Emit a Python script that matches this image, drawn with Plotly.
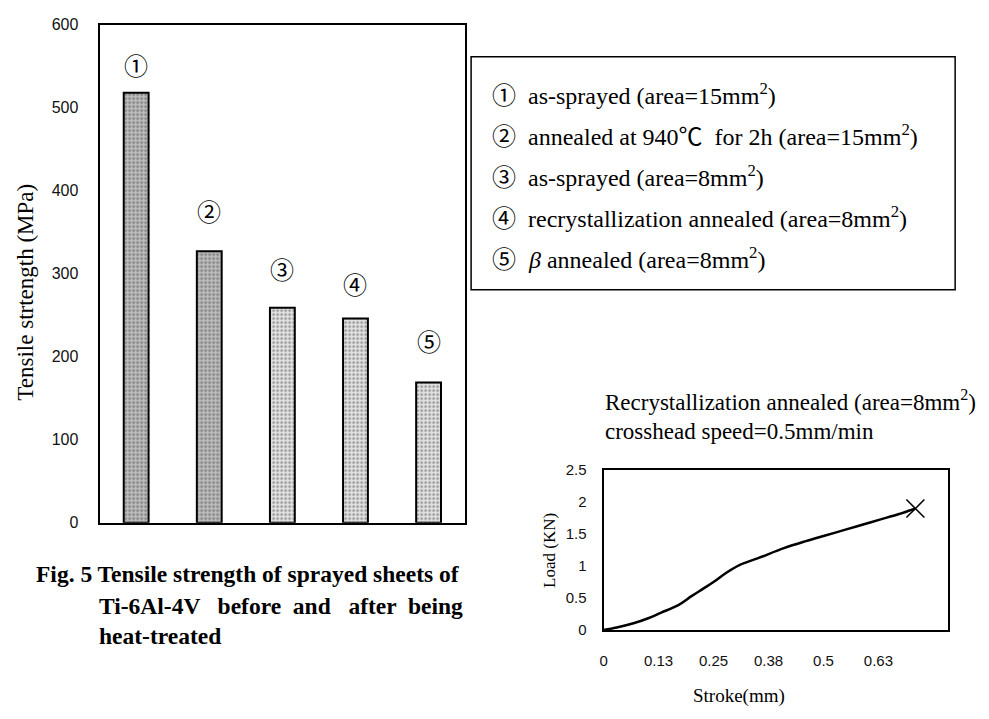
import plotly.graph_objects as go

# ---------------- data ----------------
conditions = ["①", "②", "③", "④", "⑤"]
strength_mpa = [518, 327, 259, 246, 169]
legend_labels = [
    "as-sprayed (area=15mm<sup>2</sup>)",
    "annealed at 940℃  for 2h (area=15mm<sup>2</sup>)",
    "as-sprayed (area=8mm<sup>2</sup>)",
    "recrystallization annealed (area=8mm<sup>2</sup>)",
    "<i>β</i> annealed (area=8mm<sup>2</sup>)",
]
strength_ticks = [0, 100, 200, 300, 400, 500, 600]

stroke_mm = [0, 0.03, 0.07, 0.10, 0.13, 0.17, 0.20, 0.225, 0.25, 0.28, 0.31,
             0.35, 0.41, 0.46, 0.50, 0.55, 0.59, 0.63, 0.67, 0.709]
load_kn = [0, 0.04, 0.11, 0.18, 0.27, 0.39, 0.53, 0.64, 0.75, 0.90, 1.02,
           1.12, 1.28, 1.39, 1.47, 1.57, 1.65, 1.73, 1.81, 1.90]
stroke_tickvals = [0, 0.125, 0.25, 0.375, 0.5, 0.625]
stroke_ticktext = ["0", "0.13", "0.25", "0.38", "0.5", "0.63"]
load_ticks = [0, 0.5, 1, 1.5, 2, 2.5]
load_ticktext = ["0", "0.5", "1", "1.5", "2", "2.5"]

# ---------------- styling ----------------
W, H = 989, 719
def px(x): return x / W
def py(y): return 1 - y / H

SERIF = "Liberation Serif, Times New Roman, Noto Sans CJK JP, serif"
CIRC = "Noto Sans CJK JP, Liberation Serif, serif"
SANS = "Liberation Sans, Arial, sans-serif"

bar_bg = ["#bcbcbc", "#bcbcbc", "#e2e2e2", "#e2e2e2", "#e2e2e2"]
bar_fg = ["#6a6a6a", "#6a6a6a", "#8e8e8e", "#8e8e8e", "#8e8e8e"]
label_offsets = [34, 49, 47, 42, 51]

fig = go.Figure()

fig.add_trace(go.Bar(
    x=conditions, y=strength_mpa, width=0.34,
    marker=dict(color=bar_bg, line=dict(color="black", width=2),
                pattern=dict(shape=".", fgcolor=bar_fg, bgcolor=bar_bg,
                             size=4, solidity=0.35)),
    xaxis="x", yaxis="y", showlegend=False, hoverinfo="skip",
))

fig.add_trace(go.Scatter(
    x=stroke_mm, y=load_kn, mode="lines",
    line=dict(color="black", width=2.5, shape="spline"),
    xaxis="x2", yaxis="y2", showlegend=False, hoverinfo="skip",
))
fig.add_trace(go.Scatter(
    x=[stroke_mm[-1]], y=[load_kn[-1]], mode="markers",
    marker=dict(symbol="x-thin", size=18, line=dict(color="black", width=1.6)),
    xaxis="x2", yaxis="y2", showlegend=False, hoverinfo="skip",
))

def ann(x, y, text, font, xanchor="center", xref="paper", yref="paper", angle=0):
    return dict(x=x, y=y, xref=xref, yref=yref, text=text, showarrow=False,
                xanchor=xanchor, yanchor="middle", textangle=angle, font=font)

annotations = []
for i, (c, v) in enumerate(zip(conditions, strength_mpa)):
    annotations.append(ann(c, v + label_offsets[i], c,
                           dict(family=CIRC, size=24, color="black"),
                           xref="x", yref="y"))

# main y title
annotations.append(ann(px(22), py(290), "Tensile strtength (MPa)",
                       dict(family=SERIF, size=23, color="black"), angle=-90))

# legend box text
legend_y = [87, 129, 171, 213, 255]
for c, lab, yy in zip(conditions, legend_labels, legend_y):
    annotations.append(ann(px(502), py(yy), c, dict(family=CIRC, size=24, color="black")))
    annotations.append(ann(px(524), py(yy), lab, dict(family=SERIF, size=24, color="black"),
                           xanchor="left"))

# caption
CAP = dict(family=SERIF, size=23.5, color="black")
annotations.append(ann(px(30), py(580), "<b>Fig. 5 Tensile strength of sprayed sheets of</b>",
                       CAP, xanchor="left"))
annotations.append(ann(px(93), py(612), "<b>Ti-6Al-4V   before  and   after  being</b>",
                       CAP, xanchor="left"))
annotations.append(ann(px(93), py(643), "<b>heat-treated</b>", CAP, xanchor="left"))

# small chart header and titles
HDR = dict(family=SERIF, size=23, color="black")
annotations.append(ann(px(601), py(402), "Recrystallization annealed (area=8mm<sup>2</sup>)",
                       HDR, xanchor="left"))
annotations.append(ann(px(601), py(433), "crosshead speed=0.5mm/min", HDR, xanchor="left"))
annotations.append(ann(px(547), py(555), "Load (KN)",
                       dict(family=SERIF, size=17, color="black"), angle=-90))
annotations.append(ann(px(738), py(705), "Stroke(mm)",
                       dict(family=SERIF, size=19, color="black")))

shapes = [dict(type="rect", xref="paper", yref="paper",
               x0=px(469), x1=px(955), y0=py(288), y1=py(49),
               line=dict(color="black", width=1.5))]

fig.update_layout(
    width=W, height=H, margin=dict(l=0, r=0, t=0, b=0),
    paper_bgcolor="white", plot_bgcolor="white",
    xaxis=dict(domain=[px(96), px(463)], range=[-0.5, 4.5], showticklabels=False,
               ticks="", showgrid=False, zeroline=False, showline=True, mirror=True,
               linecolor="black", linewidth=2, anchor="y"),
    yaxis=dict(domain=[py(527), py(16)], range=[0, 600], tickvals=strength_ticks,
               showgrid=False, zeroline=False, showline=True, mirror=True,
               linecolor="black", linewidth=2, ticks="", ticklabelstandoff=16,
               tickfont=dict(family=SANS, size=16, color="#111"), anchor="x"),
    xaxis2=dict(domain=[px(602), px(948)], range=[0, 0.7835], tickvals=stroke_tickvals,
                ticktext=stroke_ticktext, showgrid=False, zeroline=False, showline=True,
                mirror=True, linecolor="black", linewidth=2, ticks="", ticklabelstandoff=16,
                tickfont=dict(family=SANS, size=15, color="#111"), anchor="y2"),
    yaxis2=dict(domain=[py(637), py(473)], range=[0, 2.5], tickvals=load_ticks,
                ticktext=load_ticktext, showgrid=False, zeroline=False, showline=True,
                mirror=True, linecolor="black", linewidth=2, ticks="", ticklabelstandoff=12,
                tickfont=dict(family=SANS, size=15, color="#111"), anchor="x2"),
    annotations=annotations, shapes=shapes,
)

fig.write_html("out.html", config={"displayModeBar": False},
               post_script="document.body.style.margin='0';document.body.style.overflow='hidden';")
